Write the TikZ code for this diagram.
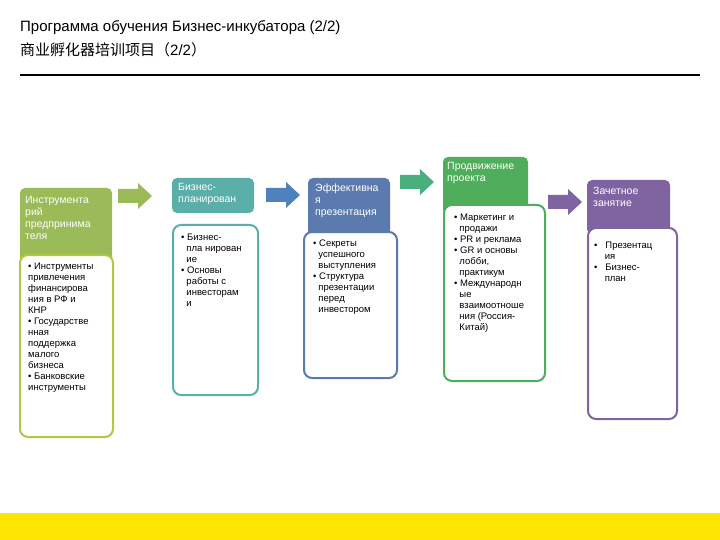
\documentclass[tikz,border=0pt]{standalone}
\usepackage{fontspec}
\setmainfont{Liberation Sans}
\setsansfont{Liberation Sans}
\newfontfamily\cjk{Noto Sans CJK SC}
\definecolor{cA}{HTML}{9BBB59}
\definecolor{cBb}{HTML}{5AAFA8}
\definecolor{cC}{HTML}{5B7BAE}
\definecolor{cD}{HTML}{4FAE5C}
\definecolor{cE}{HTML}{8064A2}
\definecolor{cArB}{HTML}{4F81BD}
\definecolor{cArC}{HTML}{4BAE7E}
\definecolor{ylw}{HTML}{FFE600}
\tikzset{
 hdr/.style={rounded corners=5pt, fill=#1, draw=none},
 body/.style={rounded corners=8pt, fill=white, draw=#1, line width=2pt},
 htext/.style={anchor=north west, text=white, font=\fontsize{10.5}{12}\selectfont, align=left, inner sep=0pt},
 btext/.style={anchor=north west, text=black, font=\fontsize{9.5}{11}\selectfont, align=left, inner sep=0pt},
 arrowpic/.pic={\fill[pic actions] (0,-7) -- (20,-7) -- (20,-13) -- (34,0) -- (20,13) -- (20,7) -- (0,7) -- cycle;}
}
\begin{document}
\begin{tikzpicture}[x=1pt,y=-1pt]
\useasboundingbox (0,0) rectangle (720,540);
\fill[white] (0,0) rectangle (720,540);
\node[anchor=west, font=\fontsize{15}{16}\selectfont, inner sep=0pt] (t1) at (20,28) {Программа обучения Бизнес-инкубатора (2/2)};
\node[anchor=west, font=\fontsize{15}{16}\selectfont, inner sep=0pt] (t2) at (20,50) {{\cjk 商业孵化器培训项目（}2/2{\cjk ）}};
\draw[line width=1.5pt] (20,75) -- (700,75);
\fill[ylw] (0,513) rectangle (720,540);
% column 1
\fill[hdr=cA] (20,188) rectangle (112,265);
\draw[body=cA!80!yellow] (20,255) rectangle (113,437);
\node[htext] (h1) at (25,196) {Инструмента\\рий\\предпринима\\теля};
\node[btext] (b1) at (28,263) {\textbullet\ Инструменты\\привлечения\\финансирова\\ния в РФ и\\КНР\\\textbullet\ Государстве\\нная\\поддержка\\малого\\бизнеса\\\textbullet\ Банковские\\инструменты};
% column 2
\fill[hdr=cBb] (172,178) rectangle (254,213);
\draw[body=cBb] (173,225) rectangle (258,395);
\node[htext] (h2) at (178,183) {Бизнес-\\планирован};
\node[btext] (b2) at (181,234) {\textbullet\ Бизнес-\\\ \ пла нирован\\\ \ ие\\\textbullet\ Основы\\\ \ работы с\\\ \ инвесторам\\\ \ и};
% column 3
\fill[hdr=cC] (308,178) rectangle (390,238);
\draw[body=cC] (304,232) rectangle (397,378);
\node[htext] (h3) at (315,184) {Эффективна\\я\\презентация};
\node[btext] (b3) at (313,240) {\textbullet\ Секреты\\\ \ успешного\\\ \ выступления\\\textbullet\ Структура\\\ \ презентации\\\ \ перед\\\ \ инвестором};
% column 4
\fill[hdr=cD] (443,157) rectangle (528,215);
\draw[body=cD] (444,205) rectangle (545,381);
\node[htext] (h4) at (447,162) {Продвижение\\проекта};
\node[btext] (b4) at (454,214) {\textbullet\ Маркетинг и\\\ \ продажи\\\textbullet\ PR и реклама\\\textbullet\ GR и основы\\\ \ лобби,\\\ \ практикум\\\textbullet\ Международн\\\ \ ые\\\ \ взаимоотноше\\\ \ ния (Россия-\\\ \ Китай)};
% column 5
\fill[hdr=cE] (587,180) rectangle (670,234);
\draw[body=cE] (588,228) rectangle (677,419);
\node[htext] (h5) at (593,187) {Зачетное\\занятие};
\node[btext] (b5) at (594,242) {\textbullet\ \ \ Презентац\\\ \ \ \ ия\\\textbullet\ \ \ Бизнес-\\\ \ \ \ план};
% arrows
\pic[fill=cA] at (118,196) {arrowpic};
\pic[fill=cArB] at (266,195) {arrowpic};
\pic[fill=cArC] at (400,182) {arrowpic};
\pic[fill=cE] at (548,202) {arrowpic};
\end{tikzpicture}
\end{document}
